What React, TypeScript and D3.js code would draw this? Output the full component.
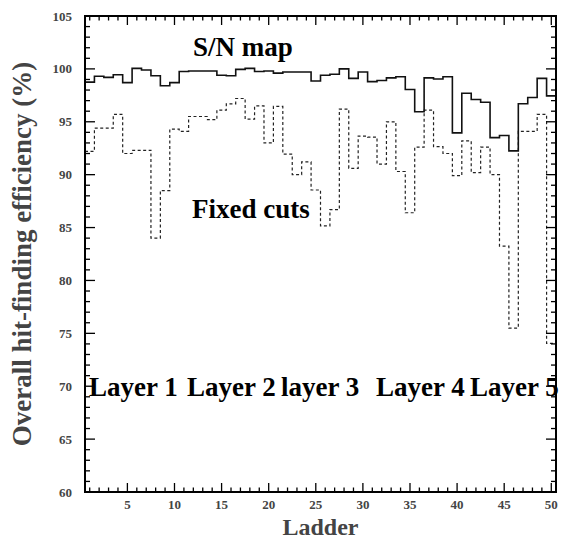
import React from "react";
import * as d3 from "d3";

const ladders: number[] = d3.range(1, 51);
const snMap: number[] = [
  98.75, 99.3, 99.2, 99.45, 98.7, 100.05, 99.9, 99.35, 98.4, 98.7,
  99.75, 99.8, 99.8, 99.8, 99.4, 99.35, 99.95, 100.05, 99.75, 99.8,
  99.6, 99.7, 99.7, 99.7, 98.85, 99.4, 99.5, 100.0, 99.1, 99.7,
  98.8, 98.9, 99.15, 99.25, 98.05, 95.95, 99.15, 99.05, 99.25, 93.95,
  97.7, 97.1, 96.85, 93.5, 93.7, 92.25, 96.7, 97.3, 99.1, 97.45,
];
const fixedCuts: number[] = [
  92.2, 94.4, 94.4, 95.7, 92.0, 92.3, 92.3, 84.0, 88.5, 94.3,
  94.1, 95.5, 95.5, 95.2, 96.1, 96.7, 97.2, 95.25, 96.5, 93.0,
  96.45, 91.95, 90.0, 91.2, 88.55, 85.15, 86.7, 96.2, 90.6, 93.65,
  93.55, 91.0, 95.0, 90.3, 86.4, 92.6, 96.1, 92.65, 92.0, 89.9,
  93.2, 90.2, 92.6, 90.0, 83.25, 75.5, 94.1, 94.1, 95.7, 74.05,
];
const xTickLabels: number[] = [5, 10, 15, 20, 25, 30, 35, 40, 45, 50];
const yTickLabels: number[] = [60, 65, 70, 75, 80, 85, 90, 95, 100, 105];
const layerLabels: string[] = ["Layer 1", "Layer 2", "layer 3", "Layer 4", "Layer 5"];
const layerLabelX: number[] = [89, 187, 281, 376, 470];

const W = 563;
const H = 540;
const L = 85;
const R = 556;
const T = 16;
const B = 492;

const FONT = "'Liberation Serif', 'Times New Roman', serif";

export default function App() {
  const x = d3.scaleLinear().domain([0.5, 50.5]).range([L, R]);
  const y = d3.scaleLinear().domain([60, 105]).range([B, T]);

  const stepPath = (vals: number[]) => {
    const pts: [number, number][] = ladders.map((l, i) => [l - 0.5, vals[i]]);
    pts.push([50.5, vals[vals.length - 1]]);
    return d3
      .line<[number, number]>()
      .x((d) => x(d[0]))
      .y((d) => y(d[1]))
      .curve(d3.curveStepAfter)(pts) as string;
  };

  const xTicks = d3.range(1, 51);
  const yTicks = d3.range(60, 106);

  return (
    <svg
      width={W}
      height={H}
      style={{ position: "absolute", left: 0, top: 0, background: "#fff" }}
      fontFamily={FONT}
    >
      <rect x={0} y={0} width={W} height={H} fill="#fff" />
      {/* histograms */}
      <path d={stepPath(fixedCuts)} fill="none" stroke="#222" strokeWidth={1.2} strokeDasharray="3,2.5" />
      <path d={stepPath(snMap)} fill="none" stroke="#111" strokeWidth={1.6} />

      {/* ticks */}
      {xTicks.map((t) => {
        const len = t % 5 === 0 ? 9 : 4.5;
        return (
          <g key={"xt" + t} stroke="#000" strokeWidth={1.3}>
            <line x1={x(t)} x2={x(t)} y1={B} y2={B - len} />
            <line x1={x(t)} x2={x(t)} y1={T} y2={T + len} />
          </g>
        );
      })}
      {yTicks.map((t) => {
        const len = t % 5 === 0 ? 10 : 5;
        return (
          <g key={"yt" + t} stroke="#000" strokeWidth={1.3}>
            <line x1={L} x2={L + len} y1={y(t)} y2={y(t)} />
            <line x1={R} x2={R - len} y1={y(t)} y2={y(t)} />
          </g>
        );
      })}
      <rect x={L} y={T} width={R - L} height={B - T} fill="none" stroke="#000" strokeWidth={2} />

      {/* tick labels */}
      {xTickLabels.map((t) => (
        <text key={"xl" + t} x={x(t)} y={B + 17} textAnchor="middle" fontSize={13} fontWeight="bold" fill="#444">
          {t}
        </text>
      ))}
      {yTickLabels.map((t) => (
        <text key={"yl" + t} x={L - 13} y={y(t) + 4.5} textAnchor="end" fontSize={13} fontWeight="bold" fill="#444">
          {t}
        </text>
      ))}

      {/* axis titles */}
      <text x={(L + R) / 2} y={535} textAnchor="middle" fontSize={24} fontWeight="bold" fill="#444">
        Ladder
      </text>
      <text
        transform={`translate(31, ${(T + B) / 2}) rotate(-90)`}
        textAnchor="middle"
        fontSize={27}
        fontWeight="bold"
        fill="#444"
      >
        Overall hit-finding efficiency (%)
      </text>

      {/* annotations */}
      <text x={193} y={56} fontSize={27} fontWeight="bold" fill="#000">
        S/N map
      </text>
      <text x={192} y={218} fontSize={27} fontWeight="bold" fill="#000">
        Fixed cuts
      </text>
      {layerLabels.map((s, i) => (
        <text key={s} x={layerLabelX[i]} y={396} fontSize={27} fontWeight="bold" fill="#000">
          {s}
        </text>
      ))}
    </svg>
  );
}
